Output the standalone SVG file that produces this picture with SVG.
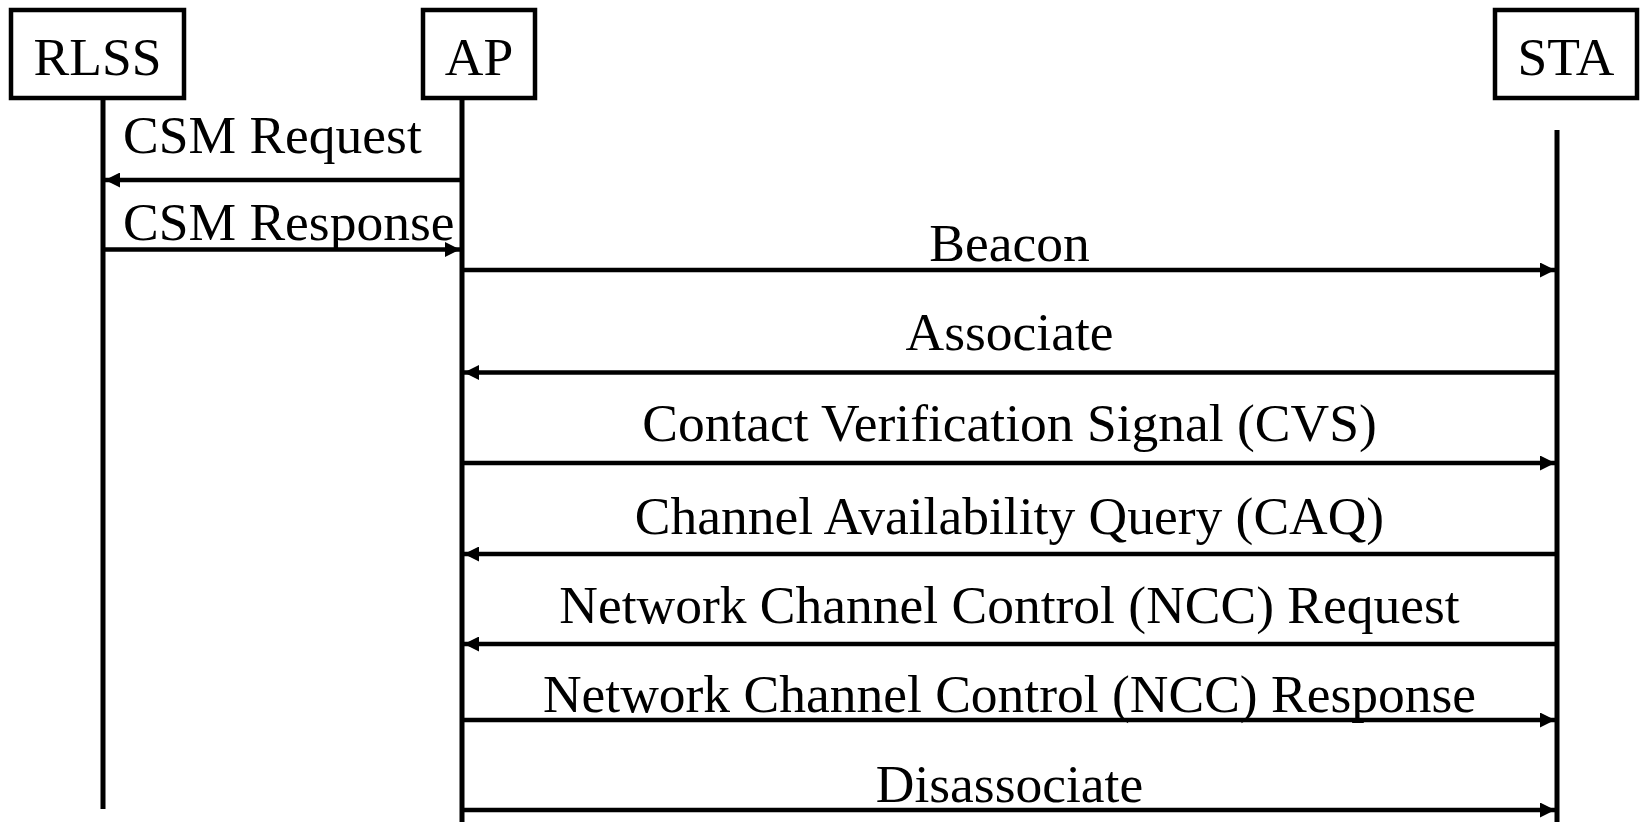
<svg xmlns="http://www.w3.org/2000/svg" width="1644" height="822" viewBox="0 0 1644 822">
<style>
.box{fill:#fff;stroke:#000;stroke-width:4.5}
.life{stroke:#000;stroke-width:5;fill:none}
.msg{stroke:#000;stroke-width:4.5;fill:none}
text{font-family:"Liberation Serif","Times New Roman",serif;font-size:53.5px;fill:#000}
.c{text-anchor:middle}
</style>
<defs>
<marker id="ah" viewBox="0 0 15 15" refX="15" refY="7.5" markerWidth="15" markerHeight="15" markerUnits="userSpaceOnUse" orient="auto">
<path d="M0,0 L15,7.5 L0,15 z" fill="#000"/>
</marker>
</defs>
<g id="RLSS">
<rect class="box" x="11" y="10" width="173" height="88"/>
<text class="c" x="97.5" y="75">RLSS</text>
<line class="life" x1="103" y1="98" x2="103" y2="809"/>
</g>
<g id="AP">
<rect class="box" x="423" y="10" width="112" height="88"/>
<text class="c" x="479" y="75">AP</text>
<line class="life" x1="462" y1="98" x2="462" y2="822"/>
</g>
<g id="STA">
<rect class="box" x="1495" y="10" width="142" height="88"/>
<text class="c" x="1566" y="75">STA</text>
<line class="life" x1="1557" y1="130" x2="1557" y2="822"/>
</g>
<g id="connectors">
<line class="msg" x1="460" y1="180" x2="105" y2="180" marker-end="url(#ah)"/>
<text x="123" y="153">CSM Request</text>
<line class="msg" x1="105" y1="249.5" x2="460" y2="249.5" marker-end="url(#ah)"/>
<text x="123" y="240">CSM Response</text>
<line class="msg" x1="464" y1="270" x2="1555" y2="270" marker-end="url(#ah)"/>
<text class="c" x="1009.5" y="261">Beacon</text>
<line class="msg" x1="1555" y1="372.5" x2="464" y2="372.5" marker-end="url(#ah)"/>
<text class="c" x="1009.5" y="350">Associate</text>
<line class="msg" x1="464" y1="463" x2="1555" y2="463" marker-end="url(#ah)"/>
<text class="c" x="1009.5" y="441">Contact Verification Signal (CVS)</text>
<line class="msg" x1="1555" y1="554" x2="464" y2="554" marker-end="url(#ah)"/>
<text class="c" x="1009.5" y="534">Channel Availability Query (CAQ)</text>
<line class="msg" x1="1555" y1="644" x2="464" y2="644" marker-end="url(#ah)"/>
<text class="c" x="1009.5" y="623">Network Channel Control (NCC) Request</text>
<line class="msg" x1="464" y1="720" x2="1555" y2="720" marker-end="url(#ah)"/>
<text class="c" x="1009.5" y="712">Network Channel Control (NCC) Response</text>
<line class="msg" x1="464" y1="810" x2="1555" y2="810" marker-end="url(#ah)"/>
<text class="c" x="1009.5" y="802">Disassociate</text>
</g>
</svg>
